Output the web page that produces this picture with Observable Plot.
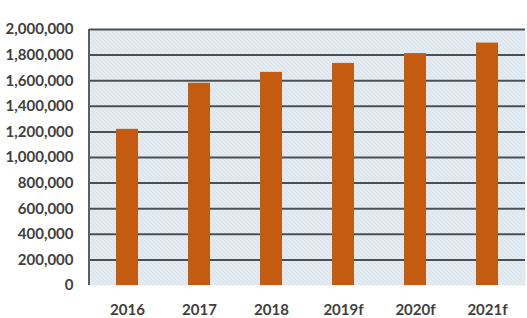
<!DOCTYPE html>
<html>
<head>
<meta charset="utf-8">
<script src="https://cdn.jsdelivr.net/npm/d3@7"></script>
<script src="https://cdn.jsdelivr.net/npm/@observablehq/plot@0.6"></script>
<style>
  html, body { margin: 0; padding: 0; background: #ffffff; }
  #chart svg { display: block; }
</style>
</head>
<body>
<div id="chart"></div>
<script>
const years = ["2016", "2017", "2018", "2019f", "2020f", "2021f"];
const values = [1220000, 1580000, 1665000, 1735000, 1812000, 1894000];
const yTicks = [0, 200000, 400000, 600000, 800000, 1000000, 1200000, 1400000, 1600000, 1800000, 2000000];

const data = years.map((year, i) => ({year, value: values[i]}));

const chart = Plot.plot({
  width: 527,
  height: 318,
  marginLeft: 89,
  marginRight: 2,
  marginTop: 29,
  marginBottom: 33,
  style: {
    fontFamily: "Lato, 'Open Sans', sans-serif",
    fontSize: "15px",
    fontWeight: "bold",
    color: "#404040",
    background: "#ffffff"
  },
  x: {domain: years, paddingInner: 0.7, paddingOuter: 0.35, label: null},
  y: {domain: [0, 2000000], label: null},
  marks: [
    Plot.frame({fill: "url(#hatch)", stroke: null}),
    Plot.ruleY(yTicks.filter(d => d > 0), {stroke: "#4b5057", strokeWidth: 2}),
    Plot.barY(data, {x: "year", y: "value", fill: "#c55a11"}),
    Plot.axisY({ticks: yTicks, tickFormat: d3.format(","), tickSize: 0, tickPadding: 16, label: null}),
    Plot.axisX({tickSize: 0, tickPadding: 19, label: null})
  ]
});

// hatch pattern for the plot background
const ns = "http://www.w3.org/2000/svg";
const defs = document.createElementNS(ns, "defs");
const pat = document.createElementNS(ns, "pattern");
pat.setAttribute("id", "hatch");
pat.setAttribute("patternUnits", "userSpaceOnUse");
pat.setAttribute("width", "4");
pat.setAttribute("height", "4");
const bg = document.createElementNS(ns, "rect");
bg.setAttribute("width", "4");
bg.setAttribute("height", "4");
bg.setAttribute("fill", "#e6edf3");
pat.appendChild(bg);
const ln = document.createElementNS(ns, "path");
ln.setAttribute("d", "M0,0 L4,4 M-1,3 L1,5 M3,-1 L5,1");
ln.setAttribute("stroke", "#ccd6df");
ln.setAttribute("stroke-width", "0.8");
pat.appendChild(ln);
defs.appendChild(pat);
chart.insertBefore(defs, chart.firstChild);

// left axis line
const ys = chart.scale("y");
const axisLine = document.createElementNS(ns, "line");
axisLine.setAttribute("x1", 89); axisLine.setAttribute("x2", 89);
axisLine.setAttribute("y1", ys.apply(2000000)); axisLine.setAttribute("y2", ys.apply(0));
axisLine.setAttribute("stroke", "#5a5f66");
axisLine.setAttribute("stroke-width", "2");
chart.appendChild(axisLine);

document.getElementById("chart").appendChild(chart);
</script>
</body>
</html>
